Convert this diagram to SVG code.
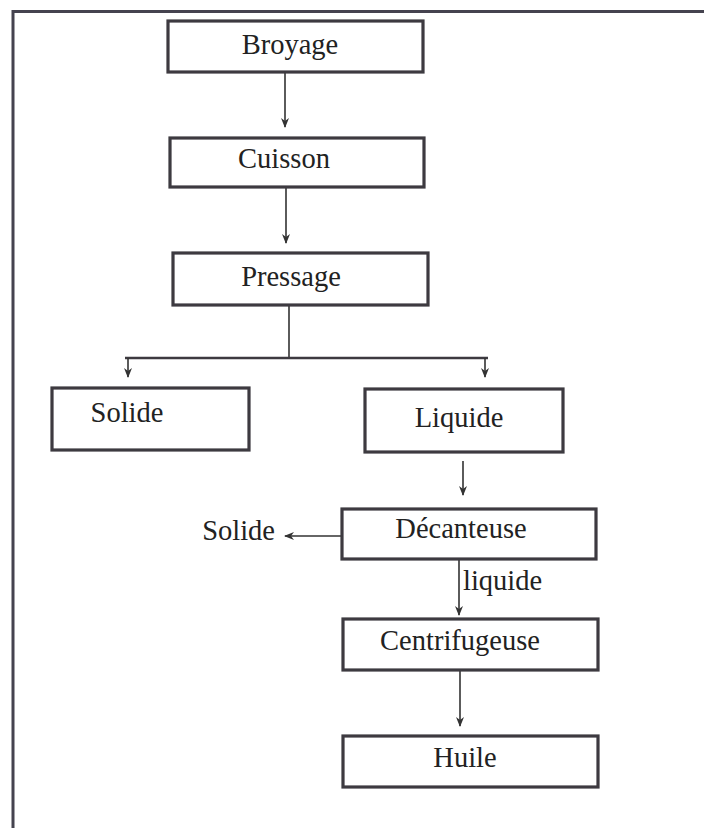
<svg xmlns="http://www.w3.org/2000/svg" width="704" height="828" viewBox="0 0 704 828">
<style>
.box{fill:#fff;stroke:#3d3a40;stroke-width:3.2}
.t{font-family:"Liberation Serif","DejaVu Serif",serif;font-size:28.5px;fill:#222}
.c{fill:none;stroke:#333;stroke-width:1.6}
.frame{fill:none;stroke:#45434f;stroke-width:3}
</style>
<defs>
<marker id="ah" viewBox="0 0 10 10" refX="9" refY="5" markerWidth="10" markerHeight="10" markerUnits="userSpaceOnUse" orient="auto">
<path d="M0,1 L10,5 L0,9 L3,5 Z" fill="#333"/>
</marker>
</defs>
<rect width="704" height="828" fill="#fff"/>
<path class="frame" d="M13,828 V11.5 H704"/>
<g id="connectors">
<line class="c" x1="285" y1="72" x2="285" y2="127" marker-end="url(#ah)"/>
<line class="c" x1="286" y1="187" x2="286" y2="243" marker-end="url(#ah)"/>
<line class="c" x1="289" y1="305" x2="289" y2="358"/>
<path d="M125,358 H488" fill="none" stroke="#3d3a40" stroke-width="2.6"/>
<line class="c" x1="128" y1="358" x2="128" y2="377" marker-end="url(#ah)"/>
<line class="c" x1="485" y1="358" x2="485" y2="377" marker-end="url(#ah)"/>
<line class="c" x1="463" y1="461" x2="463" y2="495" marker-end="url(#ah)"/>
<line class="c" x1="342" y1="536" x2="285" y2="536" marker-end="url(#ah)"/>
<line class="c" x1="459" y1="559" x2="459" y2="615" marker-end="url(#ah)"/>
<line class="c" x1="460" y1="670" x2="460" y2="726" marker-end="url(#ah)"/>
<text class="t" x="463" y="590">liquide</text>
<text class="t" x="275" y="540" text-anchor="end">Solide</text>
</g>
<g id="broyage"><rect class="box" x="168" y="21" width="255" height="51"/><text class="t" x="290" y="54" text-anchor="middle">Broyage</text></g>
<g id="cuisson"><rect class="box" x="170" y="138" width="254" height="49"/><text class="t" x="284" y="168" text-anchor="middle">Cuisson</text></g>
<g id="pressage"><rect class="box" x="173" y="253" width="255" height="52"/><text class="t" x="291" y="286" text-anchor="middle">Pressage</text></g>
<g id="solide"><rect class="box" x="52" y="388" width="197" height="62"/><text class="t" x="127" y="422" text-anchor="middle">Solide</text></g>
<g id="liquide"><rect class="box" x="365" y="389" width="198" height="63"/><text class="t" x="459" y="427" text-anchor="middle">Liquide</text></g>
<g id="decanteuse"><rect class="box" x="342" y="509" width="254" height="50"/><text class="t" x="461" y="538" text-anchor="middle">Décanteuse</text></g>
<g id="centrifugeuse"><rect class="box" x="343" y="619" width="255" height="51"/><text class="t" x="460" y="650" text-anchor="middle">Centrifugeuse</text></g>
<g id="huile"><rect class="box" x="343" y="736" width="255" height="51"/><text class="t" x="465" y="767" text-anchor="middle">Huile</text></g>
</svg>
